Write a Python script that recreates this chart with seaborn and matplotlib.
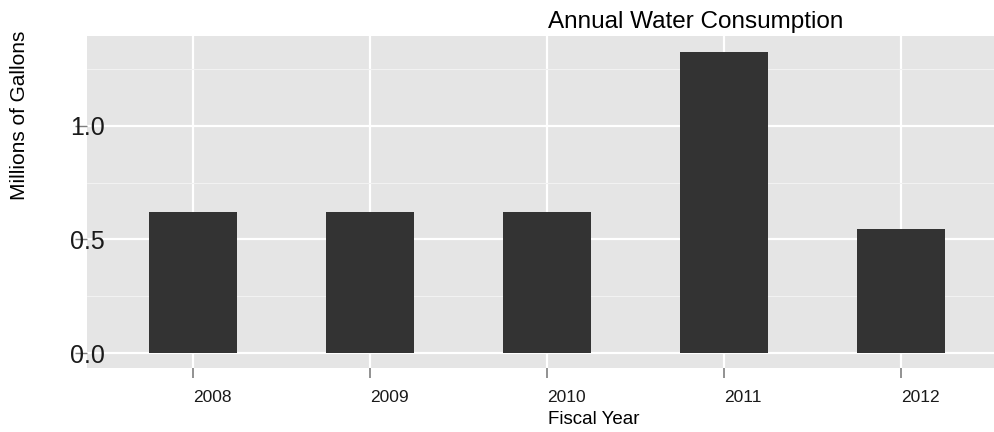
import numpy as np
import pandas as pd
import seaborn as sns
import matplotlib.pyplot as plt

years = ["2008", "2009", "2010", "2011", "2012"]
gallons = [0.621, 0.621, 0.621, 1.326, 0.546]

df = pd.DataFrame({"year": years, "gallons": gallons})

sns.set_theme(style="darkgrid")
plt.rcParams["font.family"] = ["Liberation Sans", "DejaVu Sans"]

fig = plt.figure(figsize=(9.94, 4.32), dpi=100)
ax = fig.add_axes([87 / 994, 1 - 368 / 432, (994 - 87) / 994, (368 - 36) / 432])
ax.set_facecolor("#e5e5e5")

sns.barplot(data=df, x="year", y="gallons", color="#333333", width=0.5,
            saturation=1, linewidth=0, ax=ax, zorder=3)

ax.set_xlim(-0.6, 4.525)
ax.set_ylim(-0.066, 1.396)

ax.set_yticks([0.0, 0.5, 1.0])
ax.set_yticks([0.25, 0.75, 1.25], minor=True)
ax.set_yticklabels(["0.0", "0.5", "1.0"])
ax.grid(True, which="major", color="white", linewidth=1.6, zorder=0)
ax.grid(True, which="minor", axis="y", color="#f2f2f2", linewidth=0.8, zorder=0)
ax.set_axisbelow(True)

for s in ax.spines.values():
    s.set_visible(False)

ax.tick_params(axis="y", which="major", left=True, length=9, width=1,
               color="#7f7f7f", direction="out", pad=-9, labelsize=18,
               labelcolor="#1a1a1a")
ax.tick_params(axis="y", which="minor", left=False, length=0)
for lbl in ax.get_yticklabels():
    lbl.set_horizontalalignment("center")
ax.tick_params(axis="x", bottom=True, length=7.5, width=1.2, color="#7f7f7f",
               direction="out", pad=8, labelsize=12.5, labelcolor="#1a1a1a")
for lbl in ax.get_xticklabels():
    lbl.set_horizontalalignment("left")

ax.set_xlabel("")
ax.set_ylabel("")

fig.text(548 / 994, 1 - 22 / 432, "Annual Water Consumption", ha="left",
         va="center", fontsize=17.5, color="black")
fig.text(548 / 994, 1 - 420 / 432, "Fiscal Year", ha="left", va="center",
         fontsize=13.5, color="black")
fig.text(20 / 994, 1 - 115 / 432, "Millions of Gallons", ha="center",
         va="center", rotation=90, fontsize=15, color="black")

fig.savefig("out.png", dpi=100)
